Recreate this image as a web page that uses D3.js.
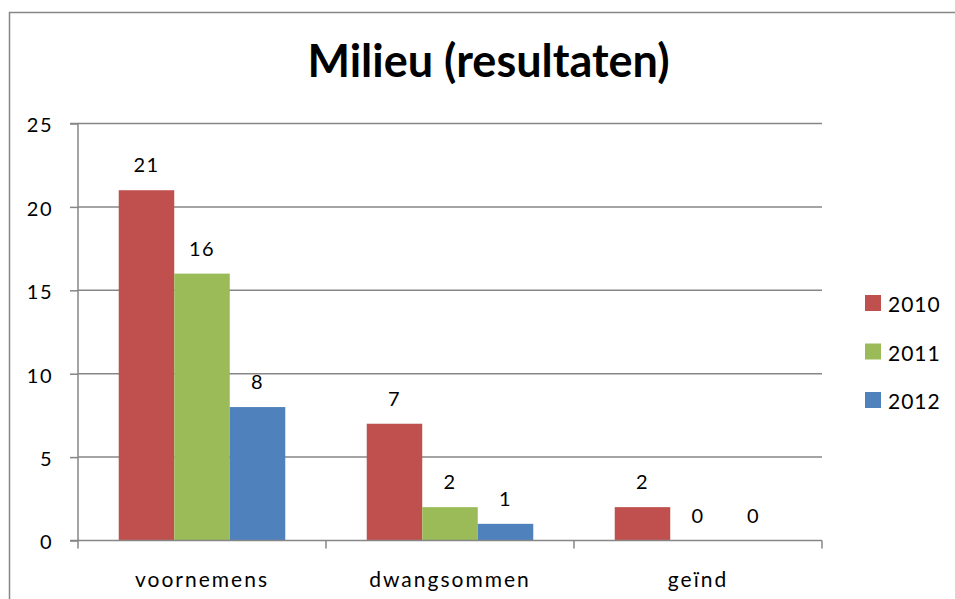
<!DOCTYPE html>
<html><head><meta charset="utf-8">
<script src="https://cdn.jsdelivr.net/npm/d3@7"></script>
<style>body{margin:0;background:#fff}svg{display:block}text{font-family:Lato,"Open Sans",sans-serif;fill:#000}</style>
</head><body><svg id="c" width="955" height="599"></svg>
<script>
const categories = ["voornemens","dwangsommen","geïnd"];
const series = ["2010","2011","2012"];
const values2010 = [21,7,2];
const values2011 = [16,2,0];
const values2012 = [8,1,0];
const yTicks = [0,5,10,15,20,25];
const colors = ["#C0504D","#9BBB59","#4F81BD"];
const allValues = [values2010, values2011, values2012];

const svg = d3.select("#c");
svg.append("rect").attr("x",9.5).attr("y",12.5).attr("width",1000).attr("height",700)
  .attr("fill","none").attr("stroke","#868686").attr("stroke-width",1.5);

svg.append("text").attr("x",488.5).attr("y",77).attr("text-anchor","middle")
  .attr("font-size",45).attr("font-weight","bold").text("Milieu (resultaten)");

const pL=78, pR=822, pT=123.5, pB=540.5;
const y = d3.scaleLinear().domain([0,25]).range([pB,pT]);
const x0 = d3.scaleBand().domain(categories).range([pL,pR]);
const x1 = d3.scaleBand().domain(series).range([0,x0.bandwidth()]).paddingOuter(0.734).paddingInner(0);

svg.append("g").selectAll("line").data(yTicks.filter(d=>d>0)).join("line")
  .attr("x1",pL).attr("x2",pR).attr("y1",d=>y(d)).attr("y2",d=>y(d))
  .attr("stroke","#868686").attr("stroke-width",1.5);

const yAxis = d3.axisLeft(y).tickValues(yTicks).tickSize(8).tickPadding(17);
const gy = svg.append("g").attr("transform",`translate(${pL},0)`).call(yAxis);
gy.select(".domain").attr("stroke","#868686").attr("stroke-width",1.5).attr("d",`M-8,${pT}H0V${pB}`);
gy.selectAll(".tick line").attr("stroke","#868686").attr("stroke-width",1.5);
gy.selectAll(".tick text").attr("font-size",20).attr("font-family","Lato").attr("fill","#000")
  .attr("letter-spacing","1.5px").attr("dy","0.42em");

series.forEach((s,i)=>{
  svg.append("g").selectAll("rect").data(categories).join("rect")
    .attr("x",d=>x0(d)+x1(s)).attr("width",x1.bandwidth())
    .attr("y",(d,j)=>y(allValues[i][j])).attr("height",(d,j)=>y(0)-y(allValues[i][j]))
    .attr("fill",colors[i]);
  svg.append("g").selectAll("text").data(categories).join("text")
    .attr("x",d=>x0(d)+x1(s)+x1.bandwidth()/2).attr("y",(d,j)=>y(allValues[i][j])-18)
    .attr("text-anchor","middle").attr("font-size",20).attr("letter-spacing","1.5px")
    .text((d,j)=>allValues[i][j]);
});

const xAxis = d3.axisBottom(x0).tickSize(0).tickPadding(32);
const gx = svg.append("g").attr("transform",`translate(0,${pB})`).call(xAxis);
gx.select(".domain").remove();
gx.selectAll(".tick text").attr("font-size",21).attr("font-family","Lato").attr("fill","#000").attr("letter-spacing","2px");
svg.append("line").attr("x1",pL-8).attr("x2",pR).attr("y1",pB).attr("y2",pB)
  .attr("stroke","#868686").attr("stroke-width",1.5);
svg.append("g").selectAll("line").data(categories.map(c=>x0(c)).concat([pR])).join("line")
  .attr("x1",d=>d).attr("x2",d=>d).attr("y1",pB).attr("y2",pB+8)
  .attr("stroke","#868686").attr("stroke-width",1.5);

const lg = svg.append("g").selectAll("g").data(series).join("g")
  .attr("transform",(d,i)=>`translate(865,${303+i*48.5})`);
lg.append("rect").attr("x",0).attr("y",-8).attr("width",16).attr("height",16).attr("fill",(d,i)=>colors[i]);
lg.append("text").attr("x",23).attr("y",9).attr("font-size",21).attr("letter-spacing","1px").text(d=>d);
</script></body></html>
